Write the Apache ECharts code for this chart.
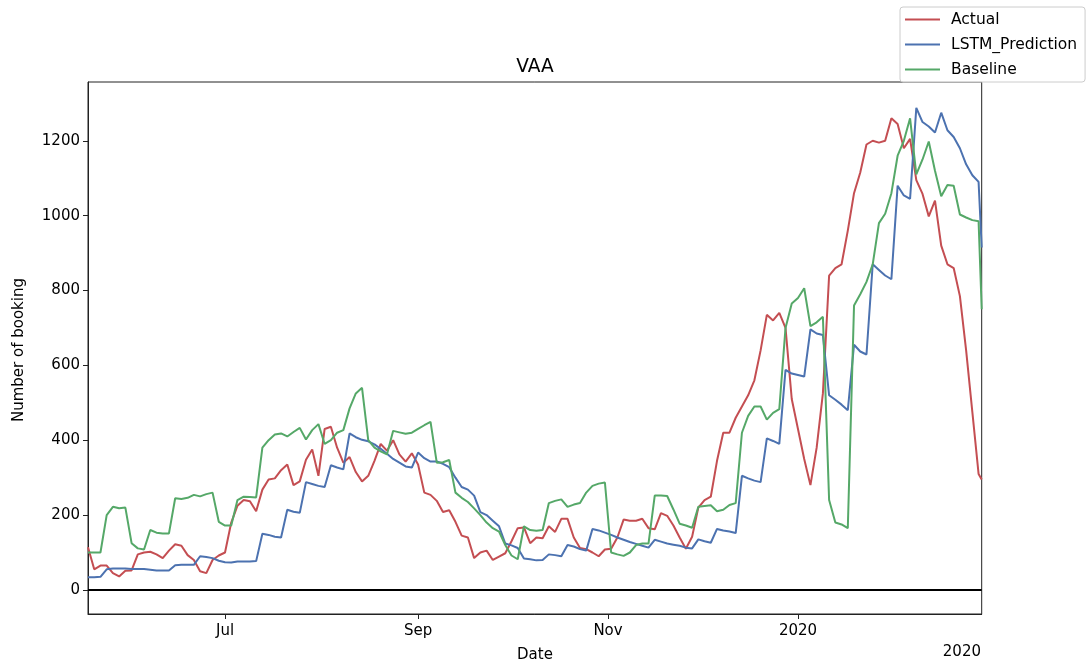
<!DOCTYPE html>
<html>
<head>
<meta charset="utf-8">
<script src="https://cdn.jsdelivr.net/npm/echarts@6/dist/echarts.min.js"></script>
<style>
  html, body { margin: 0; padding: 0; background: #fff; }
  #chart { width: 1089px; height: 669px; }
</style>
</head>
<body>
<div id="chart"></div>
<script>
// ---- data (sampled every 2 days from 2019-05-18, last point 2020-02-29) ----
const START = [2019, 4, 18];
const STEP_DAYS = 2;
const LAST_DAY = 287;

const actual = [
  114, 55, 65, 65, 45, 36, 51, 52, 95, 100,
  102, 95, 85, 105, 122, 118, 93, 80, 50, 45,
  80, 92, 100, 180, 225, 240, 237, 210, 268, 295,
  298, 320, 335, 280, 290, 348, 375, 305, 430, 436,
  380, 340, 355, 315, 290, 305, 345, 390, 372, 400,
  362, 343, 365, 335, 260, 254, 238, 208, 213, 182,
  145, 140, 85, 100, 105, 80, 89, 98, 130, 165,
  167, 125, 140, 138, 170, 155, 190, 190, 140, 112,
  109, 100, 90, 108, 110, 140, 188, 185, 185, 190,
  165, 162, 205, 198, 172, 140, 110, 142, 220, 240,
  249, 345, 420, 420, 460, 490, 520, 560, 640, 735,
  720, 740, 700, 510, 430, 350, 280, 380, 525, 840,
  860, 870, 960, 1060, 1115, 1190, 1200, 1195, 1200, 1260,
  1245, 1180, 1205, 1095, 1058, 998, 1040, 920, 870, 860,
  785, 640, 475, 310, 295
];

const lstmPrediction = [
  34, 34, 35, 55, 57, 57, 57, 56, 56, 56,
  54, 52, 52, 52, 66, 67, 67, 67, 90, 88,
  85, 78, 74, 73, 76, 76, 76, 77, 150, 147,
  142, 140, 214, 209, 206, 288, 283, 278, 275, 333,
  327, 322, 418, 408, 401, 397, 389, 377, 364, 350,
  340, 330, 327, 367, 352, 343, 343, 337, 328, 300,
  275, 268, 252, 208, 200, 185, 170, 124, 119, 112,
  84, 82, 79, 80, 95, 93, 90, 120, 116, 109,
  105, 163, 159, 153, 147, 140, 134, 128, 123, 118,
  113, 134, 129, 124, 121, 118, 113, 111, 135, 130,
  126, 163, 159, 156, 152, 305, 298, 292, 288, 405,
  398, 390, 588, 578, 574, 570, 696, 685, 681, 520,
  508, 495, 480, 655, 637, 629, 870, 855, 840, 830,
  1080, 1054, 1045, 1288, 1250, 1238, 1222, 1275, 1228, 1210,
  1180, 1137, 1108, 1090, 915
];

const baseline = [
  100, 100, 100, 200, 222, 218, 220, 125, 111, 108,
  160, 153, 151, 151, 245, 243, 246, 254, 250, 256,
  260, 182, 172, 172, 240, 249, 248, 247, 380, 400,
  415, 418, 410, 422, 433, 402, 427, 443, 390, 400,
  420, 427, 485, 525, 540, 400, 380, 370, 362, 425,
  421, 417, 420, 430, 440, 449, 340, 341, 347, 260,
  246, 235, 218, 200, 180, 165, 156, 120, 92, 82,
  170, 160, 158, 160, 232, 238, 242, 222, 228, 232,
  260, 278, 284, 287, 100, 95, 91, 100, 120, 124,
  124, 252, 252, 251, 215, 177, 172, 166, 222, 224,
  226, 210, 214, 227, 232, 420, 465, 490, 490, 455,
  473, 483, 700, 765, 780, 806, 705, 715, 730, 240,
  180, 175, 165, 760, 790, 823, 870, 980, 1005, 1060,
  1160, 1200, 1260, 1110, 1150, 1198, 1120, 1052, 1082, 1080,
  1003, 995, 988, 985, 750
];

const yTicks = [0, 200, 400, 600, 800, 1000, 1200];
const xTickDates = [[2019, 6, 1], [2019, 8, 1], [2019, 10, 1], [2020, 0, 1]];
const xTickLabels = ['Jul', 'Sep', 'Nov', '2020'];

// ---- build ----
const dayOffsets = [];
for (let d = 0; d < LAST_DAY; d += STEP_DAYS) dayOffsets.push(d);
dayOffsets.push(LAST_DAY);
const dates = dayOffsets.map(d => +new Date(START[0], START[1], START[2] + d));
const pair = arr => arr.map((v, i) => [dates[i], v]);
const xTickValues = xTickDates.map(t => +new Date(t[0], t[1], t[2]));

const FONT = '"DejaVu Sans", sans-serif';
const FS = 15;

const chart = echarts.init(document.getElementById('chart'), null, { renderer: 'canvas' });
chart.setOption({
  animation: false,
  backgroundColor: '#ffffff',
  textStyle: { fontFamily: FONT, color: '#000' },
  grid: {
    left: 88, right: 107.3, top: 82, bottom: 55,
    show: true, borderColor: '#222', borderWidth: 1, backgroundColor: 'transparent'
  },
  legend: {
    orient: 'vertical',
    left: 900, top: 7,
    padding: [4, 8, 4, 5],
    itemGap: 8,
    itemWidth: 35,
    itemHeight: 2,
    icon: 'rect',
    backgroundColor: 'rgba(255,255,255,0.8)',
    borderColor: '#cccccc',
    borderWidth: 1,
    borderRadius: 3,
    textStyle: { fontFamily: FONT, fontSize: 15.5, color: '#000', lineHeight: 17, padding: [0, 0, 0, 6] },
    data: ['Actual', 'LSTM_Prediction', 'Baseline']
  },
  xAxis: {
    type: 'value',
    min: dates[0],
    max: dates[dates.length - 1],
    axisLine: { onZero: false, lineStyle: { color: '#222', width: 1 } },
    axisTick: { show: true, customValues: xTickValues, length: 5, lineStyle: { color: '#222', width: 1 } },
    axisLabel: {
      customValues: xTickValues,
      fontFamily: FONT, fontSize: FS, color: '#000', margin: 10,
      formatter: function (v) {
        const i = xTickValues.indexOf(+v);
        return i >= 0 ? xTickLabels[i] : '';
      }
    },
    splitLine: { show: false }
  },
  yAxis: {
    type: 'value',
    min: -64.3,
    max: 1357,
    axisLine: { show: true, lineStyle: { color: '#222', width: 1 } },
    axisTick: { show: true, customValues: yTicks, length: 5, lineStyle: { color: '#222', width: 1 } },
    axisLabel: {
      customValues: yTicks, fontFamily: FONT, fontSize: FS, color: '#000', margin: 8,
      formatter: function (v) { return String(Math.round(v)); }
    },
    splitLine: { show: false }
  },
  series: [
    {
      name: 'Actual', type: 'line', data: pair(actual),
      showSymbol: false, symbol: 'none',
      lineStyle: { color: '#C44E52', width: 2 }, itemStyle: { color: '#C44E52' },
      markLine: {
        silent: true, symbol: 'none', label: { show: false },
        lineStyle: { color: '#000', width: 2.2, type: 'solid' },
        data: [{ yAxis: 0 }]
      }
    },
    {
      name: 'LSTM_Prediction', type: 'line', data: pair(lstmPrediction),
      showSymbol: false, symbol: 'none',
      lineStyle: { color: '#4C72B0', width: 2 }, itemStyle: { color: '#4C72B0' }
    },
    {
      name: 'Baseline', type: 'line', data: pair(baseline),
      showSymbol: false, symbol: 'none',
      lineStyle: { color: '#55A868', width: 2 }, itemStyle: { color: '#55A868' }
    }
  ],
  graphic: [
    { type: 'text', x: 535, y: 67, style: { text: 'VAA', fontFamily: FONT, fontSize: 18.6, fill: '#000', textAlign: 'center', textVerticalAlign: 'middle', align: 'center', verticalAlign: 'middle' } },
    { type: 'text', x: 535, y: 655, style: { text: 'Date', fontFamily: FONT, fontSize: FS, fill: '#000', textAlign: 'center', textVerticalAlign: 'middle', align: 'center', verticalAlign: 'middle' } },
    { type: 'text', x: 981, y: 652, style: { text: '2020', fontFamily: FONT, fontSize: FS, fill: '#000', textAlign: 'right', textVerticalAlign: 'middle', align: 'right', verticalAlign: 'middle' } },
    { type: 'text', x: 19, y: 350, rotation: Math.PI / 2, style: { text: 'Number of booking', fontFamily: FONT, fontSize: FS, fill: '#000', textAlign: 'center', textVerticalAlign: 'middle', align: 'center', verticalAlign: 'middle' } }
  ]
});
</script>
</body>
</html>
